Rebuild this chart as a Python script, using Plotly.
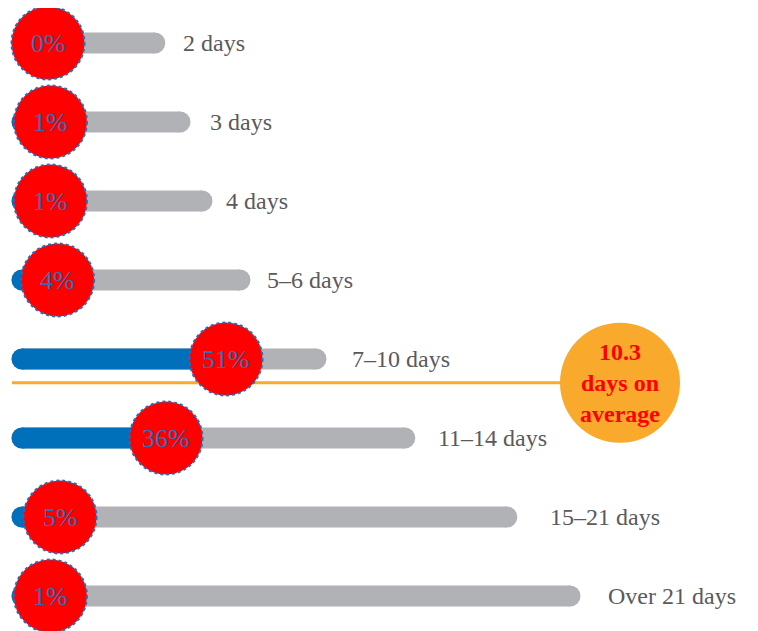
import plotly.graph_objects as go

# ---- data ----
categories = ["2 days", "3 days", "4 days", "5–6 days", "7–10 days",
              "11–14 days", "15–21 days", "Over 21 days"]
pct_values = [0, 1, 1, 4, 51, 36, 5, 1]
pct_labels = ["0%", "1%", "1%", "4%", "51%", "36%", "5%", "1%"]
bar_lengths = [33.2, 39.5, 45.0, 54.5, 73.5, 95.7, 121.2, 137.0]
label_x = [39.75, 46.5, 50.5, 60.75, 82.0, 103.5, 131.5, 146.0]
avg_text = "10.3<br>days on<br>average"
avg_row = 4.3
avg_line_end = 149.5

GRAY = "#B1B2B6"
BLUE = "#0070BB"
RED = "#FF0000"
ORANGE = "#F9A92B"
FONT = "Liberation Serif"

rows = list(range(len(categories)))

fig = go.Figure()

# gray track bars with rounded caps
for i, L in zip(rows, bar_lengths):
    fig.add_trace(go.Scatter(
        x=[0, L], y=[i, i], mode="lines+markers",
        line=dict(color=GRAY, width=21),
        marker=dict(color=GRAY, size=21, line=dict(width=0)),
        hoverinfo="skip", showlegend=False))

# blue value bars
for i, p in zip(rows, pct_values):
    fig.add_trace(go.Scatter(
        x=[0, p], y=[i, i], mode="lines+markers",
        line=dict(color=BLUE, width=21),
        marker=dict(color=BLUE, size=21, line=dict(width=0)),
        hoverinfo="skip", showlegend=False))

# average line
fig.add_trace(go.Scatter(
    x=[-2.5, avg_line_end], y=[avg_row, avg_row], mode="lines",
    line=dict(color=ORANGE, width=3), hoverinfo="skip", showlegend=False))

shapes = []
annotations = []
for i, p, lab in zip(rows, pct_values, pct_labels):
    cx = max(p, 6.5 + 0.6 * p)
    shapes.append(dict(
        type="circle", layer="above", xref="x", yref="y",
        xsizemode="pixel", ysizemode="pixel",
        xanchor=cx, yanchor=i, x0=-36.5, x1=36.5, y0=-36.5, y1=36.5,
        fillcolor=RED, line=dict(color="#1F6FC0", width=2, dash="dot")))
    annotations.append(dict(
        x=cx, y=i, xref="x", yref="y", text=lab, showarrow=False,
        font=dict(family=FONT, size=26, color="#2F6EBA"),
        xanchor="center", yanchor="middle"))

for i, lx, cat in zip(rows, label_x, categories):
    annotations.append(dict(
        x=lx, y=i, xref="x", yref="y", text=cat, showarrow=False,
        font=dict(family=FONT, size=24, color="#5A5A5C"),
        xanchor="left", yanchor="middle"))

# average bubble
shapes.append(dict(
    type="circle", layer="above", xref="x", yref="y",
    xsizemode="pixel", ysizemode="pixel",
    xanchor=avg_line_end, yanchor=avg_row, x0=-60, x1=60, y0=-60, y1=60,
    fillcolor=ORANGE, line=dict(width=0)))
annotations.append(dict(
    x=avg_line_end, y=avg_row, xref="x", yref="y",
    text="<b>" + avg_text.replace("<br>", "</b><br><b>") + "</b>",
    showarrow=False, font=dict(family=FONT, size=24, color=RED),
    xanchor="center", yanchor="middle", align="center"))

fig.update_layout(
    width=750, height=623,
    margin=dict(l=0, r=0, t=0, b=0),
    paper_bgcolor="white", plot_bgcolor="white",
    xaxis=dict(range=[-3.5, 184], visible=False, fixedrange=True),
    yaxis=dict(range=[7.443, -0.443], visible=False, fixedrange=True),
    shapes=shapes, annotations=annotations, showlegend=False)

fig.write_html("out.html")
